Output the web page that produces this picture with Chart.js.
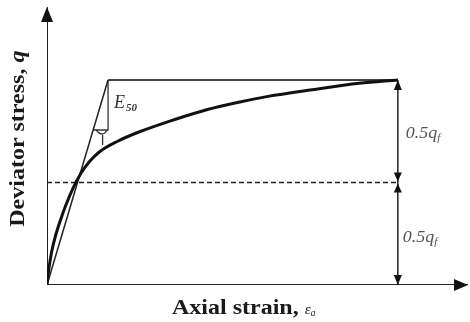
<!DOCTYPE html>
<html>
<head>
<meta charset="utf-8">
<script src="https://cdn.jsdelivr.net/npm/chart.js@4.4.1/dist/chart.umd.min.js"></script>
<style>
  html, body { margin: 0; padding: 0; background: #fff; }
  #wrap { width: 470px; height: 322px; }
</style>
</head>
<body>
<div id="wrap"><canvas id="c" width="470" height="322"></canvas></div>
<script>
// Stress–strain curve (q normalised by failure stress q_f = 1)
const strain = [0, 0.05, 0.13, 0.25, 0.39, 0.55, 0.75, 0.95, 1.2, 1.5, 2.0, 2.6, 3.6, 4.55, 5.5, 6.3, 7.5, 8.9, 10];
const stress = [0, 0.075, 0.16, 0.245, 0.32, 0.395, 0.475, 0.54, 0.60, 0.65, 0.70, 0.745, 0.805, 0.855, 0.893, 0.92, 0.951, 0.984, 1.0];

// Key levels
const qf = 1.0;
const halfQf = 0.5;
const failureStrain = 10;      // strain where the curve reaches q_f
const secantTopStrain = 1.74;  // E50 secant line meets q_f here
const triangleBaseQ = 0.756;   // lower edge of the slope triangle

// Axis extents
const xMax = 12;
const yMax = 1.356;

const secantAt = q => secantTopStrain * q / qf;

const curvePts = strain.map((s, i) => ({ x: s, y: stress[i] }));

const datasets = [
  { // main curve
    data: curvePts, borderColor: '#111', borderWidth: 3,
    cubicInterpolationMode: 'monotone'
  },
  { // E50 secant
    data: [{ x: 0, y: 0 }, { x: secantTopStrain, y: qf }],
    borderColor: '#222', borderWidth: 1.5
  },
  { // q_f level line
    data: [{ x: secantTopStrain, y: qf }, { x: failureStrain, y: qf }],
    borderColor: '#444', borderWidth: 2
  },
  { // slope triangle
    data: [{ x: secantTopStrain, y: qf }, { x: secantTopStrain, y: triangleBaseQ },
           { x: secantAt(triangleBaseQ), y: triangleBaseQ }],
    borderColor: '#333', borderWidth: 1.3
  },
  { // 0.5 q_f dashed level
    data: [{ x: 0, y: halfQf }, { x: failureStrain, y: halfQf }],
    borderColor: '#222', borderWidth: 1.5, borderDash: [5, 3]
  },
  { // dimension line
    data: [{ x: failureStrain, y: 0 }, { x: failureStrain, y: qf }],
    borderColor: '#222', borderWidth: 1.5
  },
  { // x axis
    data: [{ x: 0, y: 0 }, { x: xMax, y: 0 }],
    borderColor: '#222', borderWidth: 2
  },
  { // y axis
    data: [{ x: 0, y: 0 }, { x: 0, y: yMax }],
    borderColor: '#222', borderWidth: 2
  }
].map(d => Object.assign({ showLine: true, pointRadius: 0, fill: false }, d));

function tri(ctx, x, y, dir, w, h) {
  // filled arrowhead with tip at (x, y)
  ctx.beginPath();
  if (dir === 'up') { ctx.moveTo(x, y); ctx.lineTo(x - w / 2, y + h); ctx.lineTo(x + w / 2, y + h); }
  if (dir === 'down') { ctx.moveTo(x, y); ctx.lineTo(x - w / 2, y - h); ctx.lineTo(x + w / 2, y - h); }
  if (dir === 'right') { ctx.moveTo(x, y); ctx.lineTo(x - h, y - w / 2); ctx.lineTo(x - h, y + w / 2); }
  ctx.closePath();
  ctx.fill();
}

// draws text stretched horizontally, returning its drawn width
function wideText(ctx, text, x, y, sx) {
  ctx.save();
  ctx.translate(x, y);
  ctx.scale(sx, 1);
  ctx.fillText(text, 0, 0);
  const w = ctx.measureText(text).width * sx;
  ctx.restore();
  return w;
}

const annotate = {
  id: 'annotate',
  afterDatasetsDraw(chart) {
    const ctx = chart.ctx;
    const xs = chart.scales.x, ys = chart.scales.y;
    const px = v => xs.getPixelForValue(v);
    const py = v => ys.getPixelForValue(v);
    ctx.save();
    ctx.fillStyle = '#111';
    // axis arrowheads
    tri(ctx, px(0), py(yMax), 'up', 12, 15);
    tri(ctx, px(xMax), py(0), 'right', 12, 14);
    // dimension arrowheads
    const dx = px(failureStrain);
    tri(ctx, dx, py(qf), 'up', 8, 10);
    tri(ctx, dx, py(halfQf) - 1, 'down', 8, 9);
    tri(ctx, dx, py(halfQf) + 1, 'up', 8, 9);
    tri(ctx, dx, py(0), 'down', 8, 10);

    // angle mark under the slope triangle
    const bx = px(secantAt(triangleBaseQ)), by = py(triangleBaseQ);
    const ex = px(secantTopStrain);
    const mx = (bx + ex) / 2 + 2;
    ctx.strokeStyle = '#333';
    ctx.lineWidth = 1.3;
    ctx.beginPath();
    ctx.moveTo(bx + 3, by);
    ctx.quadraticCurveTo(mx, by + 8, ex - 1, by);
    ctx.moveTo(mx, by + 5);
    ctx.lineTo(mx, by + 15);
    ctx.stroke();

    // E50 label
    ctx.fillStyle = '#333';
    ctx.textBaseline = 'alphabetic';
    ctx.font = 'italic 18px "Liberation Serif"';
    ctx.fillText('E', px(secantTopStrain) + 6, py(qf) + 28);
    ctx.font = 'italic bold 11px "Liberation Serif"';
    ctx.fillText('50', px(secantTopStrain) + 18, py(qf) + 31);

    // 0.5 q_f labels
    ctx.fillStyle = '#555';
    const lab = (x, y) => {
      ctx.font = 'italic 16px "Liberation Serif"';
      const w = wideText(ctx, '0.5q', x, y, 1.12);
      ctx.font = 'italic 11px "Liberation Serif"';
      ctx.fillText('f', x + w, y + 3);
    };
    lab(dx + 8, py(0.745) + 6);
    lab(dx + 5, py(0.24) + 6);

    // axis titles
    ctx.fillStyle = '#1a1a1a';
    ctx.save();
    ctx.translate(24, 138);
    ctx.rotate(-Math.PI / 2);
    ctx.font = 'bold 20px "Liberation Serif"';
    const yt = 'Deviator stress, ';
    const ywq = ctx.measureText('q').width;
    const yw = ctx.measureText(yt).width * 1.2 + ywq * 1.2;
    const w0 = wideText(ctx, yt, -yw / 2, 0, 1.2);
    ctx.font = 'italic bold 20px "Liberation Serif"';
    wideText(ctx, 'q', -yw / 2 + w0, 0, 1.2);
    ctx.restore();

    ctx.font = 'bold 20px "Liberation Serif"';
    const t1 = 'Axial strain, ';
    const x0 = 172;
    const w1 = wideText(ctx, t1, x0, 314, 1.2);
    ctx.font = 'italic 15px "Liberation Serif"';
    ctx.fillText('\u03b5', x0 + w1, 314);
    const we = ctx.measureText('\u03b5').width;
    ctx.font = 'italic 10px "Liberation Serif"';
    ctx.fillText('a', x0 + w1 + we, 316);
    ctx.restore();
  }
};

new Chart(document.getElementById('c'), {
  type: 'scatter',
  data: { datasets },
  options: {
    responsive: false,
    animation: false,
    layout: { padding: { left: 47, right: 2, top: 7, bottom: 37 } },
    plugins: { legend: { display: false }, tooltip: { enabled: false } },
    scales: {
      x: { type: 'linear', min: 0, max: xMax,
           ticks: { display: false }, grid: { display: false, drawTicks: false }, border: { display: false } },
      y: { type: 'linear', min: 0, max: yMax,
           ticks: { display: false }, grid: { display: false, drawTicks: false }, border: { display: false } }
    }
  },
  plugins: [annotate]
});
</script>
</body>
</html>
